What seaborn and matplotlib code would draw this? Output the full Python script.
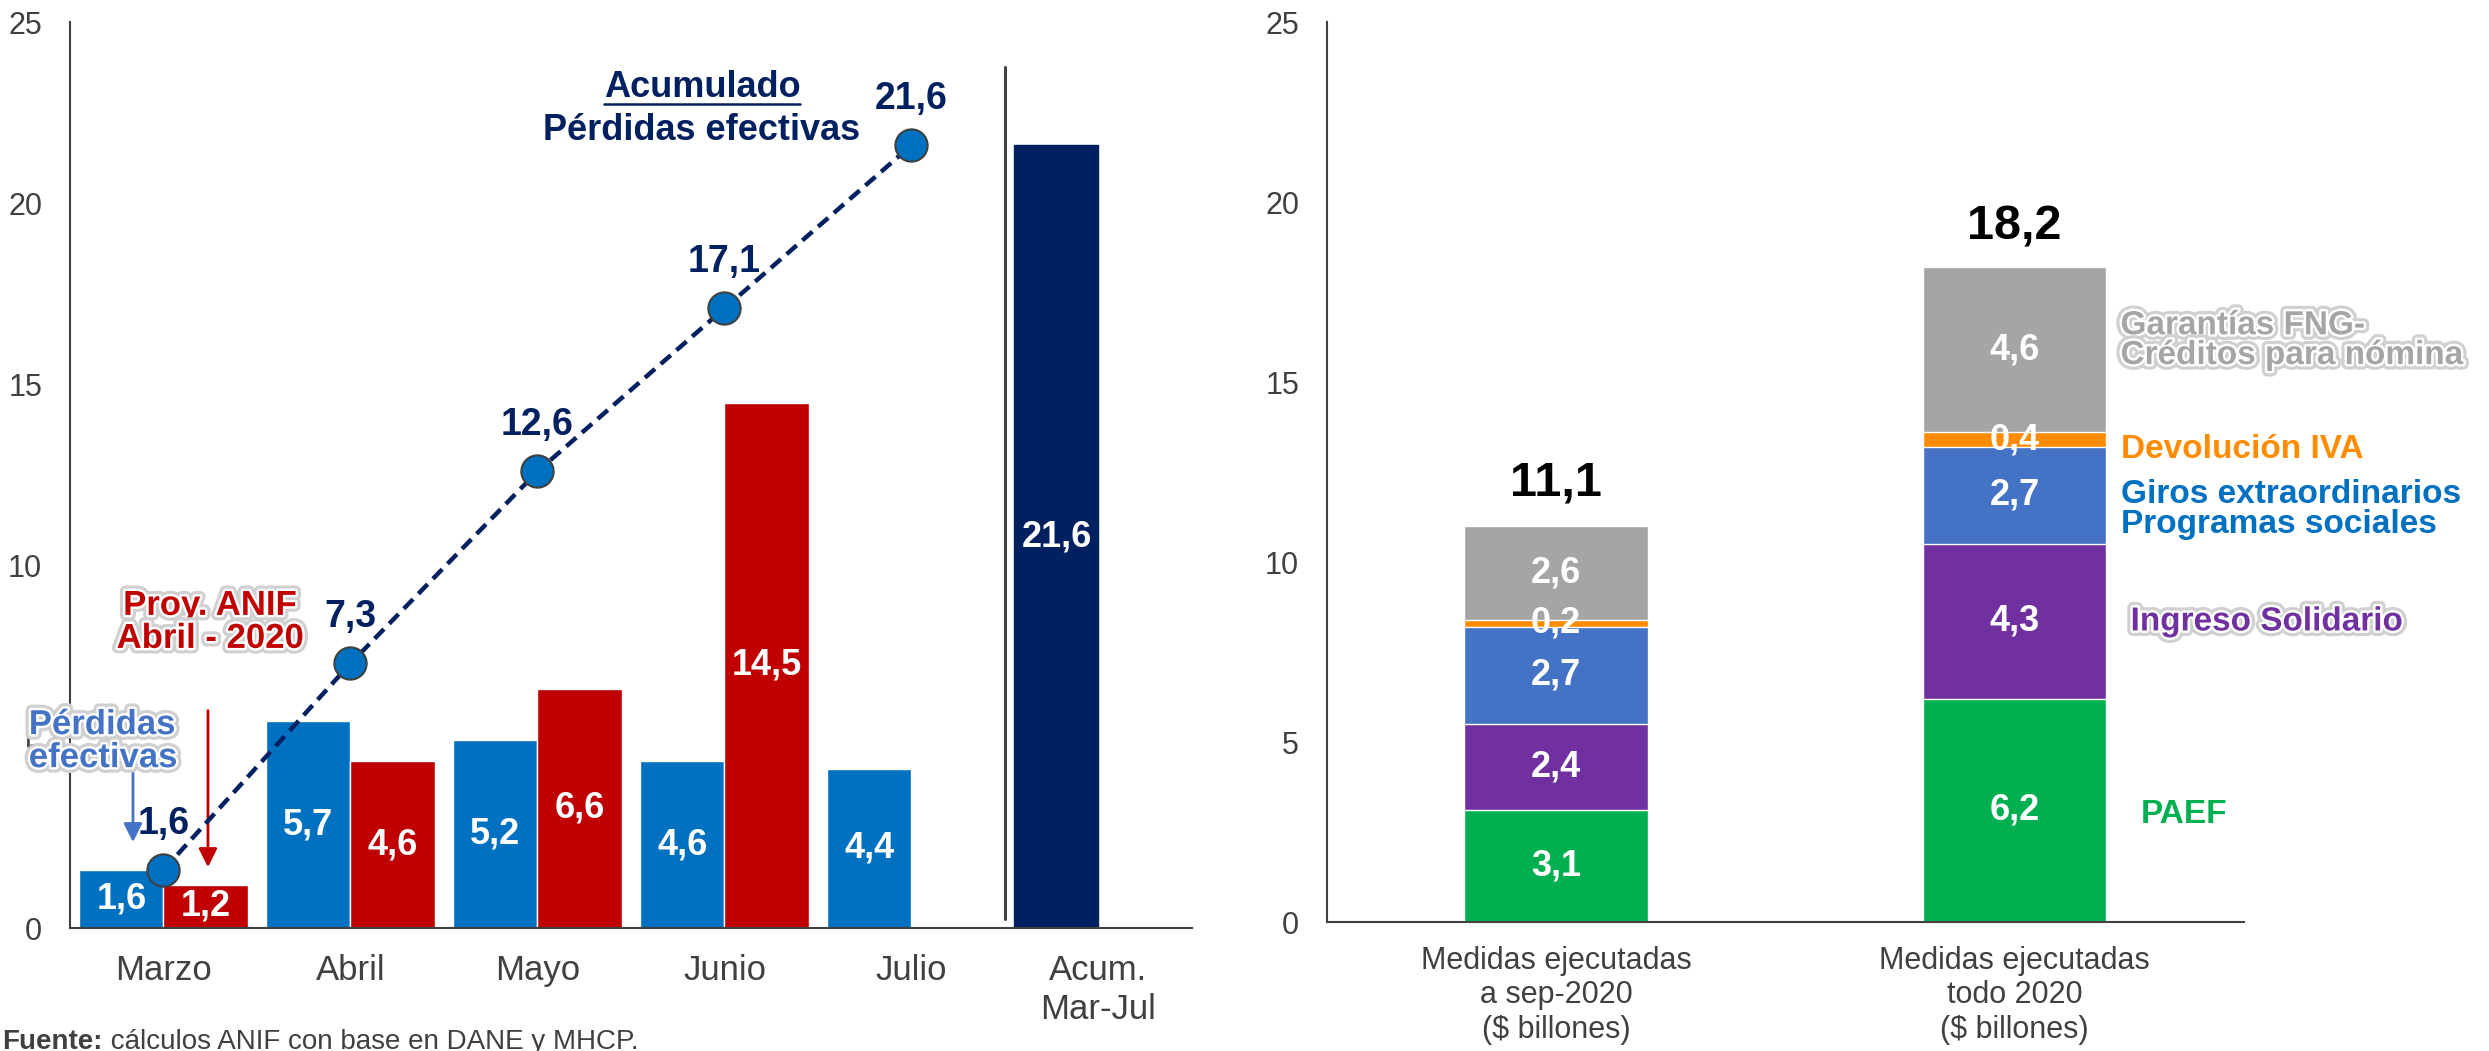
# -*- coding: utf-8 -*-

# Import necessary libraries
import numpy as np
import pandas as pd
import matplotlib.pyplot as plt
import matplotlib.patheffects as pe
import seaborn as sns

# Data - left panel: monthly losses and cumulated losses ($ billones)
categorias = ['Marzo', 'Abril', 'Mayo', 'Junio', 'Julio', 'Acum.\nMar-Jul']
meses = ['Marzo', 'Abril', 'Mayo', 'Junio', 'Julio']
perdidas = [1.6, 5.7, 5.2, 4.6, 4.4]
proy_meses = ['Marzo', 'Abril', 'Mayo', 'Junio']
proyeccion = [1.2, 4.6, 6.6, 14.5]
acumulado = [1.6, 7.3, 12.6, 17.1, 21.6]
acum_cat = 'Acum.\nMar-Jul'
acum_total = 21.6
series = ['Pérdidas efectivas', 'Proy. ANIF']

# Data - right panel: measures executed ($ billones)
medidas = ['Medidas ejecutadas\na sep-2020\n($ billones)',
           'Medidas ejecutadas\ntodo 2020\n($ billones)']
componentes = ['PAEF', 'Ingreso Solidario', 'Giros extraordinarios', 'Devolución IVA', 'Garantías FNG']
valores_sep = [3.1, 2.4, 2.7, 0.2, 2.6]
valores_2020 = [6.2, 4.3, 2.7, 0.4, 4.6]
totales = [11.1, 18.2]

# Colours
azul = '#0070C0'
rojo = '#C00000'
navy = '#002060'
gris_txt = '#404040'
col_comp = ['#00B050', '#7030A0', '#4472C4', '#FF8C00', '#A5A5A5']


def fmt(v):
    return f'{v:.1f}'.replace('.', ',')


glow = [pe.Stroke(linewidth=8, foreground='#D0D0D0'),
        pe.Stroke(linewidth=3.5, foreground='white'), pe.Normal()]

sns.set_style('white')
plt.rcParams['font.family'] = ['Liberation Sans', 'DejaVu Sans']

fig = plt.figure(figsize=(24.89, 10.51), dpi=100)
ax1 = fig.add_axes([0.0281, 0.117, 0.4508, 0.862])
ax2 = fig.add_axes([0.5331, 0.1227, 0.3684, 0.8563])

# ---------------- Left panel ----------------
# the cumulated bar sits in the first hue slot, recoloured afterwards
df_left = pd.DataFrame({
    'mes': meses + [acum_cat] + proy_meses,
    'valor': perdidas + [acum_total] + proyeccion,
    'serie': [series[0]] * (len(meses) + 1) + [series[1]] * len(proy_meses),
})
sns.barplot(data=df_left, x='mes', y='valor', hue='serie', order=categorias, hue_order=series,
            palette=[azul, rojo], width=0.9, saturation=1, errorbar=None, legend=False, ax=ax1)

for c in ax1.containers:
    for bar, v in zip(c, c.datavalues):
        if np.isclose(v, acum_total) and c is ax1.containers[0]:
            bar.set_facecolor(navy)
            bar.set_edgecolor(navy)
    vals = [v for v in c.datavalues if not np.isnan(v)]
    ax1.bar_label(c, labels=[fmt(v) for v in vals], label_type='center',
                  color='white', fontsize=26, fontweight='bold')

# Cumulated line
x_pos = [categorias.index(m) for m in meses]
sns.lineplot(x=x_pos, y=acumulado, color=navy, lw=3.2, ax=ax1, zorder=4)
ax1.lines[-1].set_dashes((3, 1.7))
sns.scatterplot(x=x_pos, y=acumulado, s=540, color=azul, edgecolor=gris_txt, linewidth=1.5,
                ax=ax1, zorder=5)
for xp, v in zip(x_pos, acumulado):
    ax1.text(xp, v + 1.0, fmt(v), ha='center', va='baseline', color=navy,
             fontsize=27, fontweight='bold', zorder=6)

# Separator before cumulated bar
ax1.axvline(4.5, ymin=0.01, ymax=0.95, color=gris_txt, lw=2.2)

# Annotations
t_acum = ax1.text(2.88, 22.93, 'Acumulado', ha='center', va='baseline', color=navy,
                  fontsize=26, fontweight='bold')
ax1.text(2.88, 21.75, 'Pérdidas efectivas', ha='center', va='baseline', color=navy,
         fontsize=26, fontweight='bold')
ax1.text(0.25, 7.73, 'Proy. ANIF\nAbril - 2020', ha='center', va='baseline', color=rojo,
         fontsize=25, fontweight='bold', linespacing=1.0, path_effects=glow, zorder=7)
ax1.text(-0.72, 4.44, 'Pérdidas\nefectivas', ha='left', va='baseline', color='#4472C4',
         fontsize=25, fontweight='bold', linespacing=1.0, path_effects=glow, zorder=7,
         clip_on=False)
ax1.annotate('', xy=(-0.163, 2.37), xytext=(-0.163, 4.3),
             arrowprops=dict(arrowstyle='-|>', color='#4472C4', lw=2, mutation_scale=28,
                             shrinkA=0, shrinkB=0))
ax1.annotate('', xy=(0.238, 1.68), xytext=(0.238, 6.0),
             arrowprops=dict(arrowstyle='-|>', color=rojo, lw=2, mutation_scale=28,
                             shrinkA=0, shrinkB=0))

ax1.set_xlim(-0.5, 5.5)
ax1.set_ylim(0, 25)

# ---------------- Right panel ----------------
stack = pd.DataFrame({'sep': valores_sep, 'todo': valores_2020}, index=componentes).cumsum()
for k in range(len(componentes) - 1, -1, -1):
    sns.barplot(x=medidas, y=[stack['sep'].iloc[k], stack['todo'].iloc[k]], order=medidas,
                color=col_comp[k], width=0.4, saturation=1, errorbar=None, ax=ax2)

for i, vals in enumerate([valores_sep, valores_2020]):
    bottom = 0
    for v in vals:
        ax2.text(i, bottom + v / 2, fmt(v), ha='center', va='center', color='white',
                 fontsize=26, fontweight='bold', zorder=5)
        bottom += v
    ax2.text(i, totales[i] + 0.75, fmt(totales[i]), ha='center', va='baseline', color='black',
             fontsize=35, fontweight='bold')

ax2.text(1.231, 15.5, 'Garantías FNG-\nCréditos para nómina', ha='left', va='baseline',
         color='#A5A5A5', fontsize=24, fontweight='bold', linespacing=0.95, path_effects=glow)
ax2.text(1.231, 12.9, 'Devolución IVA', ha='left', va='baseline', color='#FF8C00',
         fontsize=24, fontweight='bold')
ax2.text(1.231, 10.8, 'Giros extraordinarios\nProgramas sociales', ha='left', va='baseline',
         color=azul, fontsize=24, fontweight='bold', linespacing=0.95)
ax2.text(1.253, 8.1, 'Ingreso Solidario', ha='left', va='baseline', color='#7030A0',
         fontsize=24, fontweight='bold', path_effects=glow)
ax2.text(1.275, 2.75, 'PAEF', ha='left', va='baseline', color='#00B050',
         fontsize=24, fontweight='bold')

ax2.set_xlim(-0.5, 1.5)
ax2.set_ylim(0, 25)

# ---------------- Axes styling ----------------
for ax, n, lab_size, pad in [(ax1, len(categorias), 25, 19), (ax2, len(medidas), 22, 17)]:
    sns.despine(ax=ax)
    ax.set_xlabel('')
    ax.set_ylabel('')
    ax.set_yticks(range(0, 30, 5))
    ax.tick_params(axis='y', length=0, pad=20, labelsize=22, labelcolor=gris_txt)
    ax.tick_params(axis='x', which='major', length=0, pad=pad, labelsize=lab_size,
                   labelcolor=gris_txt)
    ax.set_xticks(np.arange(-0.5, n, 1), minor=True)
    ax.tick_params(axis='x', which='minor', length=7, width=1.5, color=gris_txt, direction='out')
    for s in ['left', 'bottom']:
        ax.spines[s].set_color(gris_txt)
        ax.spines[s].set_linewidth(1.5)
    ax.grid(False)

# Underline for "Acumulado"
fig.canvas.draw()
bb = t_acum.get_window_extent().transformed(ax1.transData.inverted())
ax1.plot([bb.x0, bb.x1], [22.75, 22.75], color=navy, lw=1.8)

# Source note
t_src = fig.text(0.001, 0.002, 'Fuente:', fontsize=20, fontweight='bold', color=gris_txt,
                 va='baseline', ha='left')
ax1.annotate(' cálculos ANIF con base en DANE y MHCP.', xy=(1, 0), xycoords=t_src,
             fontsize=20, color=gris_txt, va='bottom', ha='left', annotation_clip=False)

plt.savefig('out.png', dpi=100)
